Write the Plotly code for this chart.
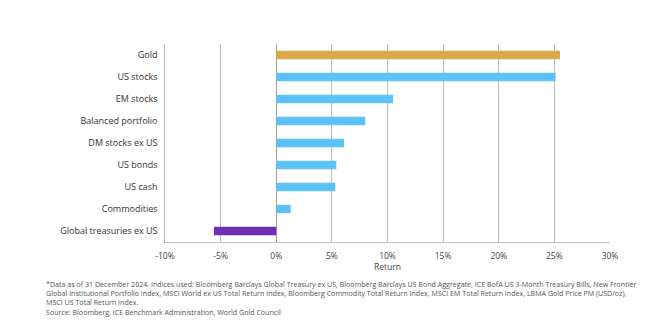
import plotly.graph_objects as go

categories = ["Gold", "US stocks", "EM stocks", "Balanced portfolio", "DM stocks ex US",
              "US bonds", "US cash", "Commodities", "Global treasuries ex US"]
returns = [25.5, 25.1, 10.5, 8.0, 6.1, 5.4, 5.3, 1.3, -5.6]
colors = ["#D9A94A"] + ["#5CC1F7"] * 7 + ["#6E2FB4"]
x_ticks = [-10, -5, 0, 5, 10, 15, 20, 25, 30]
x_ticklabels = ["-10%", "-5%", "0%", "5%", "10%", "15%", "20%", "25%", "30%"]

footnote = ("*Data as of 31 December 2024. Indices used: Bloomberg Barclays Global Treasury ex US, Bloomberg Barclays US Bond Aggregate, ICE BofA US 3-Month Treasury Bills, New Frontier<br>"
            "Global Institutional Portfolio Index, MSCI World ex US Total Return Index, Bloomberg Commodity Total Return Index, MSCI EM Total Return Index, LBMA Gold Price PM (USD/oz),<br>"
            "MSCI US Total Return Index.<br>"
            "Source: Bloomberg, ICE Benchmark Administration, World Gold Council")

fig = go.Figure(go.Bar(
    x=returns, y=categories, orientation="h",
    marker=dict(color=colors, line=dict(width=0)),
    width=0.38,
))

fig.update_layout(
    width=663, height=322,
    margin=dict(l=165, r=53, t=44, b=80),
    paper_bgcolor="white", plot_bgcolor="white",
    font=dict(family="Open Sans", size=9, color="#333333"),
    showlegend=False,
    xaxis=dict(
        range=[-10, 30], tickvals=x_ticks, ticktext=x_ticklabels,
        showgrid=True, gridcolor="#BDBDBD", gridwidth=1,
        zeroline=True, zerolinecolor="#9E9E9E", zerolinewidth=1,
        showline=True, linecolor="#BDBDBD", linewidth=1,
        ticks="", ticklabelstandoff=6, tickfont=dict(size=8.5, color="#444444"),
        title=dict(text="Return", font=dict(size=8.5, color="#444444"), standoff=0),
    ),
    yaxis=dict(
        categoryorder="array", categoryarray=categories[::-1],
        range=[-0.5, 8.5],
        showline=True, linecolor="#BDBDBD", linewidth=1,
        showgrid=False, ticks="", ticksuffix="  ",
        tickfont=dict(size=9, color="#333333"),
    ),
)

fig.add_annotation(
    text=footnote, xref="paper", yref="paper",
    x=-0.272, y=-0.175, xanchor="left", yanchor="top",
    align="left", showarrow=False,
    font=dict(family="Open Sans", size=7.1, color="#555555"),
)

fig.write_html("out.html")
